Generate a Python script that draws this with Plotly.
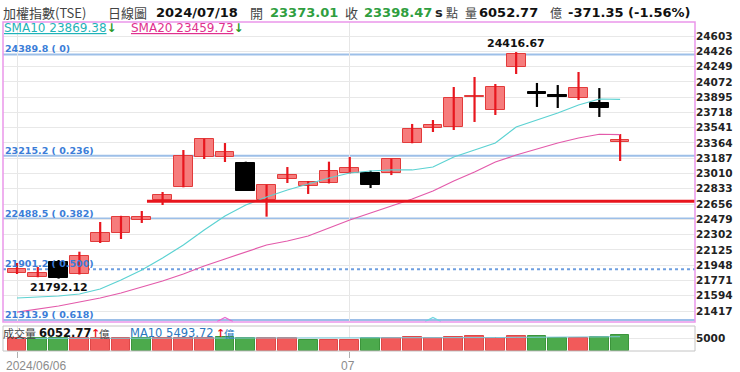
import plotly.graph_objects as go

# ---------------- data ----------------
dates = ["2024/06/06", "06/07", "06/11", "06/12", "06/13", "06/14", "06/17", "06/18",
         "06/19", "06/20", "06/21", "06/24", "06/25", "06/26", "06/27", "06/28",
         "07/01", "07/02", "07/03", "07/04", "07/05", "07/08", "07/09", "07/10",
         "07/11", "07/12", "07/15", "07/16", "07/17", "07/18"]
opens = [21857, 21811, 21990, 21846, 22217, 22321, 22470, 22703, 22854, 23201,
         23201, 23135, 22703, 22946, 22865, 22900, 23016, 23016, 23016, 23363,
         23537, 23549, 23895, 23746, 24244, 23954, 23920, 23885, 23827, 23373.01]
highs = [21973, 21927, 22008, 22104, 22448, 22520, 22576, 22796, 23282, 23412,
         23363, 23147, 22880, 23085, 22923, 23147, 23201, 23043, 23182, 23584,
         23630, 24012, 24128, 24047, 24416.67, 24059, 24035, 24186, 24000, 23468]
lows = [21846, 21808, 21792.12, 21840, 22205, 22251, 22437, 22645, 22850, 23178,
        23143, 22807, 22510, 22900, 22773, 22895, 23010, 22842, 22992, 23360,
        23491, 23514, 23607, 23688, 24163, 23781, 23769, 23862, 23665, 23155]
closes = [21903, 21857, 21800, 22054, 22321, 22510, 22504, 22761, 23213, 23410,
          23259, 22811, 22877, 22993, 22912, 23039, 23074, 22877, 23178, 23526,
          23572, 23885, 23910, 24012, 24390, 23931, 23896, 24001, 23769.82, 23398.47]
sma10 = [21568, 21579, 21591, 21614, 21672, 21776, 21892, 22031, 22182, 22356,
         22518, 22645, 22738, 22819, 22888, 22958, 23016, 23039, 23051, 23051,
         23085, 23201, 23282, 23363, 23549, 23630, 23711, 23804, 23873, 23869.38]
sma20 = [21405, 21440, 21475, 21521, 21568, 21626, 21695, 21765, 21846, 21938,
         22020, 22101, 22182, 22228, 22286, 22379, 22471, 22553, 22634, 22715,
         22807, 22923, 23027, 23143, 23224, 23294, 23363, 23421, 23465, 23459.73]
volumes = [4900, 4900, 5000, 4900, 5000, 4900, 4900, 4900, 5150, 4900,
           5300, 4900, 4850, 4850, 4400, 4400, 4400, 4900, 4900, 5400,
           4900, 5300, 5900, 5000, 5650, 5900, 4900, 4900, 5300, 6052.77]
vol_ma10 = [4850, 4860, 4870, 4880, 4890, 4900, 4910, 4920, 4930, 4940,
            4950, 4950, 4960, 4950, 4930, 4910, 4900, 4890, 4900, 4950,
            5000, 5050, 5120, 5180, 5250, 5300, 5330, 5380, 5430, 5493.72]
fib_levels = [24389.8, 23215.2, 22488.5, 21901.2, 21313.9]
fib_ratios = ["0", "0.236", "0.382", "0.500", "0.618"]
support_level = 22690
support_start_idx = 7
signal_idx = [10, 20]
price_ticks = [24603, 24426, 24249, 24072, 23895, 23718, 23541, 23364, 23187, 23010,
               22833, 22656, 22479, 22302, 22125, 21948, 21771, 21594, 21417]
vol_ticks = [5000]
date_tick_idx = [0, 16]
date_tick_labels = ["2024/06/06", "07"]
index_name = "加權指數(TSE)"
chart_type = "日線圖"
last_date = "2024/07/18"

# ---------------- layout geometry ----------------
W, H = 740, 372
ML, MR, MT, MB = 3, 45, 22, 21
PW, PH = W - ML - MR, H - MT - MB
n = len(closes)
x = list(range(n))
XR = [-0.673, 32.6]
PRICE_R = [21289.7, 24765.2]
VOL_R = [0, 9625]
price_dom = [(H - MB - 322) / PH, 1]
vol_dom = [0, (H - MB - 326) / PH]


def px(p):
    return (p - ML) / PW


def py(p):
    return (H - MB - p) / PH


UP_FILL, UP_LINE = "#f67c7c", "#e23b3b"
WICK_UP = "#e8161e"
LAT = "DejaVu Sans"
CJK = "Noto Sans CJK TC"

fig = go.Figure()

# wicks
for up, col in [(True, WICK_UP), (False, "#000000")]:
    wx, wy = [], []
    for i in x:
        if (closes[i] >= opens[i]) == up:
            wx += [i, i, None]
            wy += [lows[i], highs[i], None]
    fig.add_trace(go.Scatter(x=wx, y=wy, mode="lines", line=dict(color=col, width=2.2),
                             hoverinfo="skip", showlegend=False, xaxis="x", yaxis="y"))

# bodies
bases, hts, fills, lines = [], [], [], []
for i in x:
    o, c = opens[i], closes[i]
    bases.append(min(o, c))
    hts.append(max(abs(c - o), 14))
    if c >= o:
        fills.append(UP_FILL); lines.append(UP_LINE)
    else:
        fills.append("#000000"); lines.append("#000000")
fig.add_trace(go.Bar(x=x, y=hts, base=bases, width=0.9,
                     marker=dict(color=fills, line=dict(color=lines, width=1)),
                     hoverinfo="skip", showlegend=False, xaxis="x", yaxis="y"))

# moving averages
fig.add_trace(go.Scatter(x=x, y=sma10, mode="lines", line=dict(color="#5cd2d2", width=1.2),
                         hoverinfo="skip", showlegend=False, xaxis="x", yaxis="y"))
fig.add_trace(go.Scatter(x=x, y=sma20, mode="lines", line=dict(color="#e35aaa", width=1.2),
                         hoverinfo="skip", showlegend=False, xaxis="x", yaxis="y"))

# signal chevrons at bottom of price pane
ppx = (PRICE_R[1] - PRICE_R[0]) / 300
for idx, col in zip(signal_idx, ["#e86ad0", "#6fd6e0"]):
    fig.add_trace(go.Scatter(x=[idx - 0.38, idx, idx + 0.38],
                             y=[PRICE_R[0] + 0.5 * ppx, PRICE_R[0] + 4.5 * ppx, PRICE_R[0] + 0.5 * ppx],
                             mode="lines", line=dict(color=col, width=1.2),
                             hoverinfo="skip", showlegend=False, xaxis="x", yaxis="y"))

# volume
vcols, vlines = [], []
for i in x:
    up = True if i == 0 else closes[i] >= closes[i - 1]
    vcols.append("#f25a5a" if up else "#4caa4c")
    vlines.append("#de4848" if up else "#3c953c")
fig.add_trace(go.Bar(x=x, y=volumes, width=0.9,
                     marker=dict(color=vcols, line=dict(color=vlines, width=1)),
                     hoverinfo="skip", showlegend=False, xaxis="x2", yaxis="y2"))
fig.add_trace(go.Scatter(x=x, y=vol_ma10, mode="lines", line=dict(color="#7cc8d8", width=1),
                         hoverinfo="skip", showlegend=False, xaxis="x2", yaxis="y2"))

shapes = []
annotations = []

# fibonacci lines
for lvl, r in zip(fib_levels, fib_ratios):
    dotted = r == "0.500"
    shapes.append(dict(type="line", xref="paper", yref="y", x0=0, x1=1, y0=lvl, y1=lvl,
                       layer="between",
                       line=dict(color="#6f9fe0" if dotted else "#9dbfe8", width=2,
                                 dash="dot" if dotted else "solid")))
    annotations.append(dict(xref="paper", yref="y", x=px(3), y=lvl, xanchor="left",
                            yanchor="bottom", yshift=-2, showarrow=False,
                            text=f"<b>{lvl:.1f} ( {r})</b>",
                            font=dict(family=LAT, size=9.5, color="#3b7dd8")))

# support line
shapes.append(dict(type="line", xref="x", yref="y", x0=support_start_idx - 0.75, x1=XR[1],
                   y0=support_level, y1=support_level, layer="above",
                   line=dict(color="#e8141c", width=3)))

# pane borders
shapes.append(dict(type="rect", xref="paper", yref="paper", x0=0, x1=1,
                   y0=price_dom[0], y1=price_dom[1], line=dict(color="#ea96ea", width=1.5)))
shapes.append(dict(type="rect", xref="paper", yref="paper", x0=0, x1=1,
                   y0=vol_dom[0], y1=vol_dom[1], line=dict(color="#c4c4c4", width=1)))

# high / low labels
hi_i = max(x, key=lambda i: highs[i])
lo_i = min(x, key=lambda i: lows[i])
annotations.append(dict(xref="x", yref="y", x=hi_i, y=highs[hi_i], yanchor="bottom", yshift=0,
                        showarrow=False, text=f"<b>{highs[hi_i]:.2f}</b>",
                        font=dict(family=LAT, size=11, color="#111")))
annotations.append(dict(xref="x", yref="y", x=lo_i, y=lows[lo_i], yanchor="top", yshift=0,
                        showarrow=False, text=f"<b>{lows[lo_i]:.2f}</b>",
                        font=dict(family=LAT, size=11, color="#111")))

# header
chg = closes[-1] - closes[-2]
pct = chg / closes[-2] * 100
GREEN = "#2f9e3f"
hy = py(12)
head = [
    (3, index_name, CJK, 13, "#444", False),
    (108, chart_type, CJK, 13, "#444", False),
    (156, last_date, LAT, 13, "#111", True),
    (250, "開", CJK, 13, "#444", False),
    (270, f"{opens[-1]:.2f}", LAT, 13, GREEN if opens[-1] < closes[-2] else "#e8161e", True),
    (345, "收", CJK, 13, "#444", False),
    (364, f"{closes[-1]:.2f}", LAT, 13, GREEN if chg < 0 else "#e8161e", True),
    (435, "s", LAT, 13, "#222", True),
    (446, "點", CJK, 12, "#444", False),
    (465, "量", CJK, 12, "#444", False),
    (479, f"{volumes[-1]:.2f}", LAT, 13, "#111", True),
    (550, "億", CJK, 12, "#444", False),
    (568, f"{chg:.2f} ({pct:.2f}%)", LAT, 13, "#111", True),
]
for xp, t, fam, sz, col, b in head:
    annotations.append(dict(xref="paper", yref="paper", x=px(xp - 2), y=hy, xanchor="left",
                            yanchor="middle", showarrow=False,
                            text=f"<b>{t}</b>" if b else t,
                            font=dict(family=fam, size=sz, color=col)))

# SMA legend row
sy = py(28.5)
arrow10 = "↓" if sma10[-1] < sma10[-2] else "↑"
arrow20 = "↓" if sma20[-1] < sma20[-2] else "↑"
for xp, t, col, arr in [(4, f"SMA10 {sma10[-1]:.2f}", "#1fb3b8", arrow10),
                        (131, f"SMA20 {sma20[-1]:.2f}", "#e0308e", arrow20)]:
    annotations.append(dict(xref="paper", yref="paper", x=px(xp - 2), y=sy, xanchor="left",
                            yanchor="middle", showarrow=False,
                            text=f"<u>{t}</u><span style='color:#2a9a2a'><b>{arr}</b></span>",
                            font=dict(family=LAT, size=12, color=col)))

# volume legend row
vy = py(333)
vma_arrow = "↑" if vol_ma10[-1] >= vol_ma10[-2] else "↓"
vol_items = [
    (3, "成交量", CJK, 11, "#444"),
    (39, f"<b>{volumes[-1]:.2f}</b>", LAT, 11.5, "#111"),
    (91, f"<b>{vma_arrow}</b>", LAT, 11, "#e8161e"),
    (99, "億", CJK, 10.5, "#444"),
    (130, f"MA10 {vol_ma10[-1]:.2f}", LAT, 11.5, "#2a78c0"),
    (216, f"<b>{vma_arrow}</b>", LAT, 11, "#e8161e"),
    (224, "億", CJK, 10.5, "#2a78c0"),
]
for xp, t, fam, sz, col in vol_items:
    annotations.append(dict(xref="paper", yref="paper", x=px(xp - 2), y=vy, xanchor="left",
                            yanchor="middle", showarrow=False, text=t,
                            font=dict(family=fam, size=sz, color=col)))

# date labels
for idx, lab in zip(date_tick_idx, date_tick_labels):
    first = idx == date_tick_idx[0]
    annotations.append(dict(xref="x2", yref="paper", x=idx, y=py(366), xanchor="left" if first else "center",
                            xshift=-13 if first else -2, yanchor="middle", showarrow=False, text=lab,
                            font=dict(family="Liberation Sans", size=12, color="#8c8c8c")))

fig.update_layout(
    width=W, height=H, margin=dict(l=ML, r=MR, t=MT, b=MB),
    paper_bgcolor="white", plot_bgcolor="white", showlegend=False,
    barmode="overlay", bargap=0,
    xaxis=dict(domain=[0, 1], anchor="y", range=XR, tickvals=date_tick_idx,
               showticklabels=False, ticks="", showgrid=True, gridcolor="#e6e6e6",
               zeroline=False, showline=False, fixedrange=True),
    xaxis2=dict(domain=[0, 1], anchor="y2", range=XR, matches="x", tickvals=date_tick_idx,
                ticktext=["", ""], ticks="outside", ticklen=6, tickcolor="#b0b0b0",
                showgrid=True, gridcolor="#e6e6e6", zeroline=False, showline=False),
    yaxis=dict(domain=price_dom, range=PRICE_R, side="right", tickvals=price_ticks,
               ticktext=[str(t) for t in price_ticks], ticks="", showgrid=True,
               gridcolor="#e8e8e8", zeroline=False, showline=False,
               tickfont=dict(family=LAT, size=10.5, color="#222", weight="bold")),
    yaxis2=dict(domain=vol_dom, range=VOL_R, side="right", tickvals=vol_ticks,
                ticktext=[str(t) for t in vol_ticks], ticks="", showgrid=True,
                gridcolor="#e8e8e8", zeroline=False, showline=False,
                tickfont=dict(family=LAT, size=10.5, color="#222", weight="bold")),
    shapes=shapes, annotations=annotations,
)

fig.write_html("out.html", config={"displayModeBar": False},
               post_script="document.body.style.margin='0';document.body.style.overflow='hidden';")
